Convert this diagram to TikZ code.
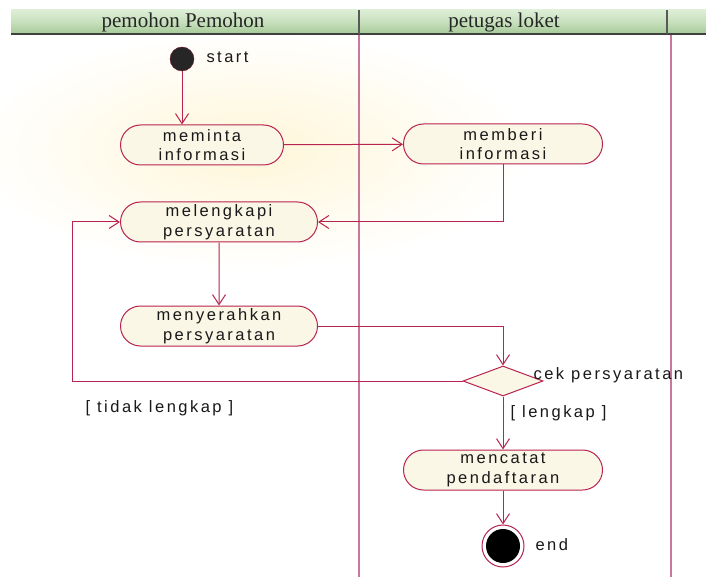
\documentclass[tikz,border=0pt]{standalone}
\usepackage{fontspec}
\setmainfont{Liberation Serif}
\newfontfamily\nodefont[LetterSpace=15]{Liberation Sans}
\usetikzlibrary{arrows.meta,shapes.geometric,shapes.misc,calc}
\definecolor{flow}{HTML}{B8234F}
\definecolor{lane}{HTML}{C9789C}
\definecolor{actfill}{HTML}{FBF7E6}
\definecolor{headA}{HTML}{DDEFD6}
\definecolor{headB}{HTML}{A8CB9A}
\definecolor{glow}{HTML}{FFF6D8}
\begin{document}
\begin{tikzpicture}[x=1pt,y=-1pt,
  activity/.style={rounded rectangle, draw=flow, line width=1pt, fill=actfill,
    minimum width=#1, minimum height=40pt, inner sep=0pt, align=center,
    font=\nodefont\fontsize{16.5}{19.5}\selectfont, text=black!90},
  activity/.default=198pt,
  flowline/.style={draw=flow, line width=1pt, -{Straight Barb[length=10pt,width=13pt]}},
  lanehead/.style={font=\fontsize{21}{24}\selectfont, text=black!85},
  guard/.style={font=\nodefont\fontsize{16.5}{19}\selectfont, text=black!90, anchor=west}]
\useasboundingbox (0,0) rectangle (706,577);
\fill[white] (0,0) rectangle (706,577);

% soft background tint behind the upper activities
\shade[inner color=glow, outer color=white] (250,150) ellipse [x radius=280, y radius=120];

% swimlane header bar
\shade[top color=headA, bottom color=headB, middle color=headA!60!headB]
  (11,10) rectangle (706,33);
\draw[black!75, line width=2.5pt] (11,34) -- (706,34);
\draw[black!65, line width=1.2pt] (359,10) -- (359,34);
\draw[black!65, line width=1.2pt] (667,10) -- (667,34);
\node[lanehead] (h1) at (183,22) {pemohon Pemohon};
\node[lanehead] (h2) at (504,22) {petugas loket};

% lane separators
\draw[lane, line width=1.4pt] (359,35) -- (359,577);
\draw[lane, line width=1.4pt] (671,35) -- (671,577);

% start
\node[circle, fill=black!85, draw=flow!60!black, minimum size=24pt, inner sep=0pt] (start) at (182,59) {};
\node[guard] (startlbl) at (203,57) {start};

% activities
\node[activity=163pt] (meminta) at (202,145) {meminta\\informasi};
\node[activity=199pt] (memberi) at (503,144) {memberi\\informasi};
\node[activity=197pt] (melengkapi) at (219,222) {melengkapi\\persyaratan};
\node[activity=197pt] (menyerahkan) at (219,326) {menyerahkan\\persyaratan};
\node[diamond, aspect=2.7, draw=flow, line width=1pt, fill=actfill,
      minimum width=80pt, minimum height=30pt, inner sep=0pt] (cek) at (503,381) {};
\node[guard] (ceklbl) at (530,375) {cek persyaratan};
\node[activity=199pt] (mencatat) at (503,470) {mencatat\\pendaftaran};

% end
\node[circle, draw=flow, line width=1pt, fill=white, minimum size=42pt, inner sep=0pt] (end) at (503,546) {};
\node[circle, fill=black, minimum size=34pt, inner sep=0pt] (endcore) at (end) {};
\node[guard] (endlbl) at (532,545) {end};

% guards
\node[guard] (tidak) at (82,408) {[ tidak lengkap ]};
\node[guard] (lengkap) at (507,413) {[ lengkap ]};

% control flows
\draw[flowline] (start) -- (start.south |- meminta.north);
\draw[flowline] (meminta) -- (memberi);
\draw[flowline] (memberi.south) |- (melengkapi.east);
\draw[flowline] (melengkapi) -- (menyerahkan);
\draw[flowline] (menyerahkan.east) -| (cek.north);
\coordinate (loopcorner) at (72,381);
\draw[flowline] (cek.west) -- (loopcorner) |- (melengkapi.west);
\draw[flowline] (cek.south) -- (mencatat.north);
\draw[flowline] (mencatat.south) -- (end.north);
\end{tikzpicture}
\end{document}
